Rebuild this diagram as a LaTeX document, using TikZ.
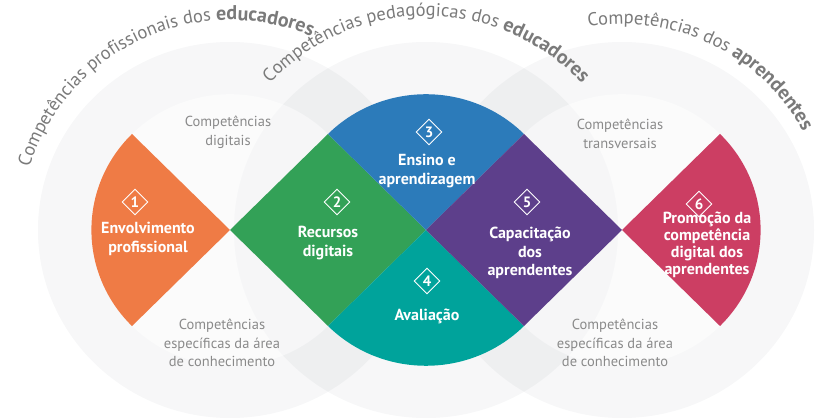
\documentclass[tikz,border=0pt]{standalone}
\usepackage{fontspec}
\setmainfont{PT Sans}
\usetikzlibrary{shapes.geometric,decorations.text}
\definecolor{orangeseg}{HTML}{EF7B45}
\definecolor{greenseg}{HTML}{33A157}
\definecolor{blueseg}{HTML}{2C7BBA}
\definecolor{tealseg}{HTML}{00A39B}
\definecolor{purpleseg}{HTML}{5D3F8B}
\definecolor{pinkseg}{HTML}{CC3E63}
\definecolor{curvegray}{HTML}{7A7A7A}
\definecolor{labelgray}{HTML}{8A8A8A}
\definecolor{ringtint}{HTML}{283246}
\begin{document}
\begin{tikzpicture}[x=1pt,y=1pt,
  ring/.style={fill=ringtint,fill opacity=0.04},
  core/.style={fill=white,fill opacity=0.45},
  badge/.style={diamond,draw=white,line width=0.9pt,minimum width=26pt,minimum height=26pt,inner sep=0pt,text=white,font=\bfseries\fontsize{15}{15}\selectfont},
  seglabel/.style={text=white,align=center,font=\bfseries\fontsize{16}{18.5}\selectfont},
  greylabel/.style={text=labelgray,align=center,font=\fontsize{14.5}{18.5}\selectfont}]

  \useasboundingbox (0,0) rectangle (819,420);
  \coordinate (A) at (230,190);
  \coordinate (B) at (426,190);
  \coordinate (C) at (622,190);

  % rings
  \fill[ring] (A) ellipse [x radius=192,y radius=188];
  \fill[ring] (B) ellipse [x radius=192,y radius=188];
  \fill[ring] (C) ellipse [x radius=192,y radius=188];
  \fill[core] (A) ellipse [x radius=138.6,y radius=135.8];
  \fill[core] (B) ellipse [x radius=138.6,y radius=135.8];
  \fill[core] (C) ellipse [x radius=138.6,y radius=135.8];

  % segments
  \fill[orangeseg] (A) -- (132,286) arc [start angle=135,end angle=225,x radius=138.6,y radius=135.8] -- cycle;
  \fill[greenseg] (A) -- (328,286) -- (B) -- (328,94) -- cycle;
  \fill[blueseg] (B) -- (524,286) arc [start angle=45,end angle=135,x radius=138.6,y radius=135.8] -- cycle;
  \fill[tealseg] (B) -- (328,94) arc [start angle=225,end angle=315,x radius=138.6,y radius=135.8] -- cycle;
  \fill[purpleseg] (B) -- (524,286) -- (C) -- (524,94) -- cycle;
  \fill[pinkseg] (C) -- (720,94) arc [start angle=-45,end angle=45,x radius=138.6,y radius=135.8] -- cycle;

  \node[badge] (b1) at (135,218) {1};
  \node[badge] (b2) at (337,218) {2};
  \node[badge] (b3) at (429,288) {3};
  \node[badge] (b4) at (427,139) {4};
  \node[badge] (b5) at (527,218) {5};
  \node[badge] (b6) at (699,216) {6};

  \node[seglabel] (l1) at (148,181) {Envolvimento\\profissional};
  \node[seglabel] (l2) at (328,177) {Recursos\\digitais};
  \node[seglabel] (l3) at (427,249) {Ensino e\\aprendizagem};
  \node[seglabel] (l4) at (427,104) {Avaliação};
  \node[seglabel] (l5) at (530,167) {Capacitação\\dos\\aprendentes};
  \node[seglabel,font=\bfseries\fontsize{16}{16.8}\selectfont] (l6) at (707,175) {Promoção da\\competência\\digital dos\\aprendentes};

  \node[greylabel] (g1) at (228,288) {Competências\\digitais};
  \node[greylabel] (g2) at (620,286) {Competências\\transversais};
  \node[greylabel] (g3) at (222,77) {Competências\\específicas da área\\de conhecimento};
  \node[greylabel] (g4) at (615,77) {Competências\\específicas da área\\de conhecimento};

  % curved titles
  \path[decorate,decoration={text along path,text align=center,text color=curvegray,
    text={|\fontsize{18.5}{18}\selectfont|Competências profissionais dos |\fontsize{20}{18}\selectfont\bfseries|educadores}}]
    ([shift={(175:210)}]A) arc [start angle=175,end angle=55,radius=210];
  \path[decorate,decoration={text along path,text align=center,text color=curvegray,
    text={|\fontsize{18.5}{18}\selectfont|Competências pedagógicas dos |\fontsize{20}{18}\selectfont\bfseries|educadores}}]
    ([shift={(150:214)}]B) arc [start angle=150,end angle=30,radius=214];
  \path[decorate,decoration={text along path,text align=center,text color=curvegray,
    text={|\fontsize{18.5}{18}\selectfont|Competências dos |\fontsize{20}{18}\selectfont\bfseries|aprendentes}}]
    ([shift={(124:206)}]C) arc [start angle=124,end angle=4,radius=206];
\end{tikzpicture}
\end{document}
